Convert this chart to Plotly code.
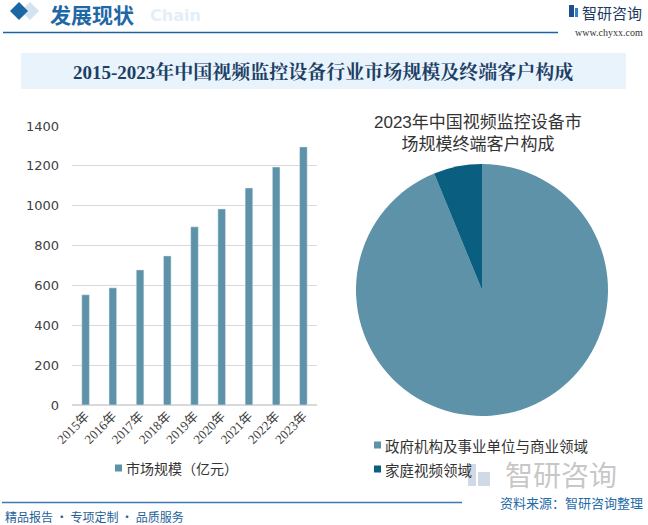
import plotly.graph_objects as go

W, H = 648, 525

years = ["2015年", "2016年", "2017年", "2018年", "2019年", "2020年", "2021年", "2022年", "2023年"]
market_size = [553, 588, 678, 748, 894, 984, 1089, 1194, 1295]
bar_name = "市场规模（亿元）"

pie_labels = ["政府机构及事业单位与商业领域", "家庭视频领域"]
pie_values = [93.8, 6.2]

BAR_COLOR = "#5e92a9"
DARK = "#0a5e80"
PIE_COLORS = [BAR_COLOR, DARK]


def px(x):
    return x / W


def py(y):
    return 1 - y / H


fig = go.Figure()

fig.add_trace(go.Bar(
    x=years, y=market_size, name=bar_name, marker_color=BAR_COLOR,
    xaxis="x", yaxis="y", showlegend=False,
))

fig.add_trace(go.Pie(
    labels=pie_labels, values=pie_values, sort=False, direction="clockwise", rotation=0,
    marker=dict(colors=PIE_COLORS, line=dict(width=0)),
    textinfo="none", hoverinfo="label+percent",
    domain=dict(x=[px(356), px(608)], y=[py(416), py(164)]),
    showlegend=False,
))

shapes = []
annotations = []

# header diamonds
shapes.append(dict(type="path", xref="paper", yref="paper",
                   path=f"M {px(30)} {py(2)} L {px(39)} {py(11)} L {px(30)} {py(20)} L {px(21)} {py(11)} Z",
                   fillcolor="#d3e3f0", line=dict(width=0), layer="below"))
shapes.append(dict(type="path", xref="paper", yref="paper",
                   path=f"M {px(19)} {py(2)} L {px(28)} {py(11)} L {px(19)} {py(20)} L {px(10)} {py(11)} Z",
                   fillcolor="#1b67a3", line=dict(width=0)))
# header line
shapes.append(dict(type="line", xref="paper", yref="paper", x0=px(3), x1=px(558), y0=py(32.5), y1=py(32.5),
                   line=dict(color="#1e64a0", width=1.5)))
# title box
shapes.append(dict(type="rect", xref="paper", yref="paper", x0=px(21), x1=px(626), y0=py(89), y1=py(53),
                   fillcolor="#e8f3fb", line=dict(width=0), layer="below"))
# footer line
shapes.append(dict(type="line", xref="paper", yref="paper", x0=px(2), x1=px(462), y0=py(502.5), y1=py(502.5),
                   line=dict(color="#3a7ab0", width=1.5)))
# logo icon (top-right)
shapes.append(dict(type="rect", xref="paper", yref="paper", x0=px(569), x1=px(574), y0=py(17), y1=py(5),
                   fillcolor="#1d4f8c", line=dict(width=0)))
shapes.append(dict(type="rect", xref="paper", yref="paper", x0=px(575), x1=px(578), y0=py(17), y1=py(8),
                   fillcolor="#2f7fd0", line=dict(width=0)))
# faint logo icon bottom-right
shapes.append(dict(type="rect", xref="paper", yref="paper", x0=px(468), x1=px(476), y0=py(486), y1=py(464),
                   fillcolor="rgba(150,170,200,0.45)", line=dict(width=0)))
shapes.append(dict(type="rect", xref="paper", yref="paper", x0=px(478), x1=px(490), y0=py(486), y1=py(472),
                   fillcolor="rgba(150,170,200,0.45)", line=dict(width=0)))

A = dict(xref="paper", yref="paper", showarrow=False)

# legends (manual)
def legend_item(x, y, color, label, size=14):
    shapes.append(dict(type="rect", xref="paper", yref="paper", x0=px(x), x1=px(x + 7),
                       y0=py(y + 3.5), y1=py(y - 3.5), fillcolor=color, line=dict(width=0)))
    annotations.append(dict(text=label, x=px(x + 9), y=py(y), xanchor="left", yanchor="middle",
                            font=dict(size=size, color="#333333", family="Noto Sans CJK SC"), **A))


legend_item(115, 468, BAR_COLOR, bar_name)
legend_item(374, 445, PIE_COLORS[0], pie_labels[0], 14.5)
legend_item(374, 469, PIE_COLORS[1], pie_labels[1], 14.5)

annotations += [
    dict(text="<b>发展现状</b>", x=px(48), y=py(14), xanchor="left", yanchor="middle",
         font=dict(size=21, color="#1f68a6", family="Noto Sans CJK SC"), **A),
    dict(text="<b>Chain</b>", x=px(148), y=py(15), xanchor="left", yanchor="middle",
         font=dict(size=16, color="#e3eef7", family="DejaVu Sans"), **A),
    dict(text="智研咨询", x=px(644), y=py(12), xanchor="right", yanchor="middle",
         font=dict(size=15, color="#1e3a60", family="Noto Sans CJK SC"), **A),
    dict(text="www.chyxx.com", x=px(645), y=py(32), xanchor="right", yanchor="middle",
         font=dict(size=10, color="#333333", family="Liberation Serif"), **A),
    dict(text="<b>2015-2023年中国视频监控设备行业市场规模及终端客户构成</b>", x=px(323), y=py(72),
         xanchor="center", yanchor="middle",
         font=dict(size=19, color="#1d3f66", family="Liberation Serif, Noto Serif CJK SC, Noto Sans CJK SC"),
         **A),
    dict(text="2023年中国视频监控设备市<br>场规模终端客户构成", x=px(478), y=py(133),
         xanchor="center", yanchor="middle",
         font=dict(size=17, color="#333333", family="Liberation Sans, Noto Sans CJK SC"), **A),
    dict(text="智研咨询", x=px(503), y=py(474), xanchor="left", yanchor="middle",
         font=dict(size=28, color="rgba(150,150,150,0.55)", family="Noto Sans CJK SC"), **A),
    dict(text="资料来源：智研咨询整理", x=px(645), y=py(502), xanchor="right", yanchor="middle",
         font=dict(size=13, color="#1f6aa8", family="Noto Sans CJK SC"), **A),
    dict(text="精品报告 · 专项定制 · 品质服务", x=px(3), y=py(516), xanchor="left", yanchor="middle",
         font=dict(size=12, color="#1f5f99", family="Noto Sans CJK SC"), **A),
]

fig.update_layout(
    width=W, height=H,
    margin=dict(l=0, r=0, t=0, b=0, autoexpand=False),
    paper_bgcolor="white", plot_bgcolor="rgba(0,0,0,0)",
    bargap=0.72,
    showlegend=False,
    xaxis=dict(domain=[px(72), px(317)], tickangle=-45, showline=False, ticks="",
               tickfont=dict(size=13, color="#404040", family="Liberation Serif, Noto Sans CJK SC"),
               fixedrange=True, automargin=False),
    yaxis=dict(domain=[py(405), py(126)], range=[0, 1400], dtick=200, showgrid=True,
               gridcolor="#d9d9d9", gridwidth=1, zeroline=True, zerolinecolor="#d9d9d9",
               tickfont=dict(size=13, color="#404040", family="DejaVu Sans"), ticks="",
               ticklabelstandoff=12, fixedrange=True, automargin=False),
    shapes=shapes,
    annotations=annotations,
)

fig.write_html("out.html", post_script="document.body.style.margin='0';",
               config={"displayModeBar": False})
